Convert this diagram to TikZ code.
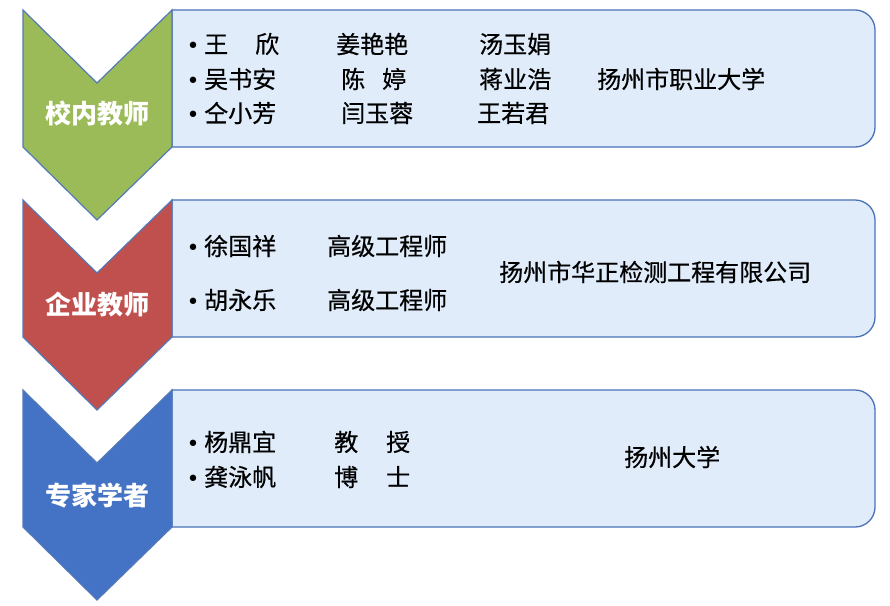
\documentclass[tikz,border=0pt]{standalone}
\usepackage{fontspec}
\setmainfont{Noto Sans CJK SC}
\newfontfamily\cjkm{Noto Sans CJK SC}[FakeBold=0.5]
\newfontfamily\dejavu{DejaVu Sans}
\definecolor{cgreen}{HTML}{9BBB59}
\definecolor{cred}{HTML}{C0504D}
\definecolor{cblue}{HTML}{4472C4}
\definecolor{boxfill}{HTML}{E0ECFA}
\definecolor{boxline}{HTML}{4A72B8}
\definecolor{chevline}{HTML}{5479B8}
\newcommand{\blt}[1]{\makebox[17.5pt][l]{\dejavu\fontsize{22}{22}\selectfont •}#1}
\tikzset{
  panel/.style={fill=boxfill, draw=boxline, line width=1.3pt},
  chev/.style={draw=chevline, line width=1.2pt, line join=miter},
  txt/.style={anchor=west, inner sep=0pt, font=\cjkm\fontsize{24}{24}\selectfont},
  lbl/.style={inner sep=0pt, text=white, font=\bfseries\fontsize{26}{26}\selectfont}
}
\begin{document}
\begin{tikzpicture}[x=1pt,y=-1pt]
\useasboundingbox (0,0) rectangle (890,605);
% panels
\draw[panel] (172,10) [rounded corners=20pt] -- (875,10) -- (875,147) [sharp corners] -- (172,147) -- cycle;
\draw[panel] (172,200) [rounded corners=20pt] -- (875,200) -- (875,337) [sharp corners] -- (172,337) -- cycle;
\draw[panel] (172,390) [rounded corners=20pt] -- (875,390) -- (875,527) [sharp corners] -- (172,527) -- cycle;
% chevrons
\draw[chev, fill=cgreen] (23,10) -- (97,83) -- (172,10) -- (172,147) -- (97,220) -- (23,147) -- cycle;
\draw[chev, fill=cred] (23,200) -- (97,273) -- (172,200) -- (172,337) -- (97,410) -- (23,337) -- cycle;
\draw[chev, fill=cblue] (23,390) -- (97,463) -- (172,390) -- (172,527) -- (97,600) -- (23,527) -- cycle;
% labels
\node[lbl] (l1) at (97,114) {校内教师};
\node[lbl] (l2) at (97,305) {企业教师};
\node[lbl] (l3) at (97,496) {专家学者};
% group 1
\node[txt] (n11) at (186.5,44) {\blt{王\hspace{27pt}欣}};
\node[txt] (n12) at (186.5,79) {\blt{吴书安}};
\node[txt] (n13) at (186.5,113) {\blt{仝小芳}};
\node[txt] (n21) at (336,44) {姜艳艳};
\node[txt] (n22) at (341,79) {陈\hspace{17pt}婷};
\node[txt] (n23) at (341,113) {闫玉蓉};
\node[txt] (n31) at (479,44) {汤玉娟};
\node[txt] (n32) at (479,79) {蒋业浩};
\node[txt] (n33) at (477,113) {王若君};
\node[txt] (u1) at (597,79) {扬州市职业大学};
% group 2
\node[txt] (m11) at (186.5,246) {\blt{徐国祥}};
\node[txt] (m12) at (186.5,300) {\blt{胡永乐}};
\node[txt] (m21) at (327,246) {高级工程师};
\node[txt] (m22) at (327,300) {高级工程师};
\node[txt] (u2) at (499,272) {扬州市华正检测工程有限公司};
% group 3
\node[txt] (p11) at (186.5,442) {\blt{杨鼎宜}};
\node[txt] (p12) at (186.5,477) {\blt{龚泳帆}};
\node[txt] (p21) at (334,442) {教\hspace{28pt}授};
\node[txt] (p22) at (334,477) {博\hspace{28pt}士};
\node[txt] (u3) at (624,457) {扬州大学};
\end{tikzpicture}
\end{document}
